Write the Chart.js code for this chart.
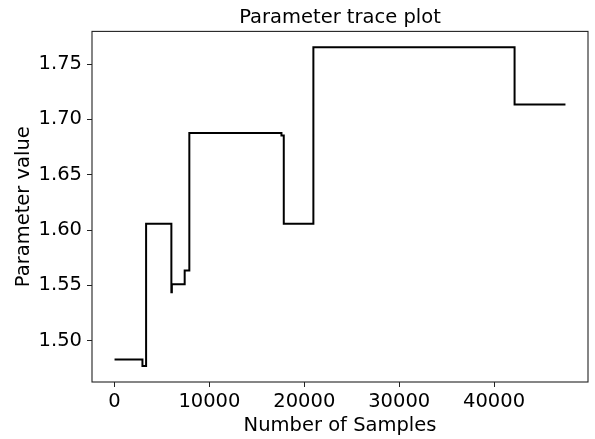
<!DOCTYPE html>
<html>
<head>
<meta charset="utf-8">
<script src="https://cdn.jsdelivr.net/npm/chart.js@4/dist/chart.umd.min.js"></script>
<style>
  html, body { margin: 0; padding: 0; background: #fff; }
  #wrap { width: 595px; height: 439px; }
</style>
</head>
<body>
<div id="wrap"><canvas id="trace"></canvas></div>
<script>
// sample index where the parameter jumps, and the value it jumps to
const changeAt = [0, 2941, 3326, 5990, 6040, 7392, 7883, 17592, 17837, 20957, 42163, 47526];
const paramValues = [1.4831, 1.4771, 1.6057, 1.5438, 1.5511, 1.5634, 1.6878, 1.6854, 1.6057, 1.7651, 1.7135, 1.7135];
const xTicks = [0, 10000, 20000, 30000, 40000];
const yTicks = [1.50, 1.55, 1.60, 1.65, 1.70, 1.75];

const FONT = 'DejaVu Sans';
const FS = 19.5;

// matplotlib-style full frame around the axes
const frame = {
  id: 'frame',
  afterDraw(chart) {
    const a = chart.chartArea, ctx = chart.ctx;
    ctx.save();
    ctx.strokeStyle = '#222';
    ctx.lineWidth = 1.1;
    ctx.strokeRect(a.left, a.top, a.right - a.left, a.bottom - a.top);
    ctx.restore();
  }
};

const points = changeAt.map((x, i) => ({ x: x, y: paramValues[i] }));

new Chart(document.getElementById('trace'), {
  type: 'line',
  data: {
    datasets: [{
      data: points,
      borderColor: '#000',
      borderWidth: 2,
      pointRadius: 0,
      fill: false,
      tension: 0,
      stepped: true
    }]
  },
  options: {
    responsive: true,
    maintainAspectRatio: false,
    animation: false,
    layout: { padding: { right: 7 } },
    plugins: {
      legend: { display: false },
      tooltip: { enabled: false },
      title: {
        display: true,
        text: 'Parameter trace plot',
        fullSize: false,
        color: '#000',
        font: { family: FONT, size: FS, weight: 'normal' },
        padding: { top: 6, bottom: 2 }
      }
    },
    scales: {
      x: {
        type: 'linear',
        min: -2376,
        max: 49902,
        afterBuildTicks: s => { s.ticks = xTicks.map(v => ({ value: v })); },
        afterFit: s => { s.height = 57; },
        grid: { drawOnChartArea: false, drawTicks: true, tickLength: 5, color: '#222' },
        border: { display: false },
        ticks: {
          color: '#000',
          padding: 3,
          maxRotation: 0,
          font: { family: FONT, size: FS },
          callback: v => String(v)
        },
        title: {
          display: true,
          text: 'Number of Samples',
          color: '#000',
          font: { family: FONT, size: FS },
          padding: { top: 0, bottom: 1 }
        }
      },
      y: {
        type: 'linear',
        min: 1.4627,
        max: 1.7795,
        afterBuildTicks: s => { s.ticks = yTicks.map(v => ({ value: v })); },
        afterFit: s => { s.width = 92; },
        grid: { drawOnChartArea: false, drawTicks: true, tickLength: 5, color: '#222' },
        border: { display: false },
        ticks: {
          color: '#000',
          padding: 5,
          font: { family: FONT, size: FS },
          callback: v => v.toFixed(2)
        },
        title: {
          display: true,
          text: 'Parameter value',
          color: '#000',
          font: { family: FONT, size: FS },
          padding: { top: 12, bottom: 0 }
        }
      }
    }
  },
  plugins: [frame]
});
</script>
</body>
</html>
